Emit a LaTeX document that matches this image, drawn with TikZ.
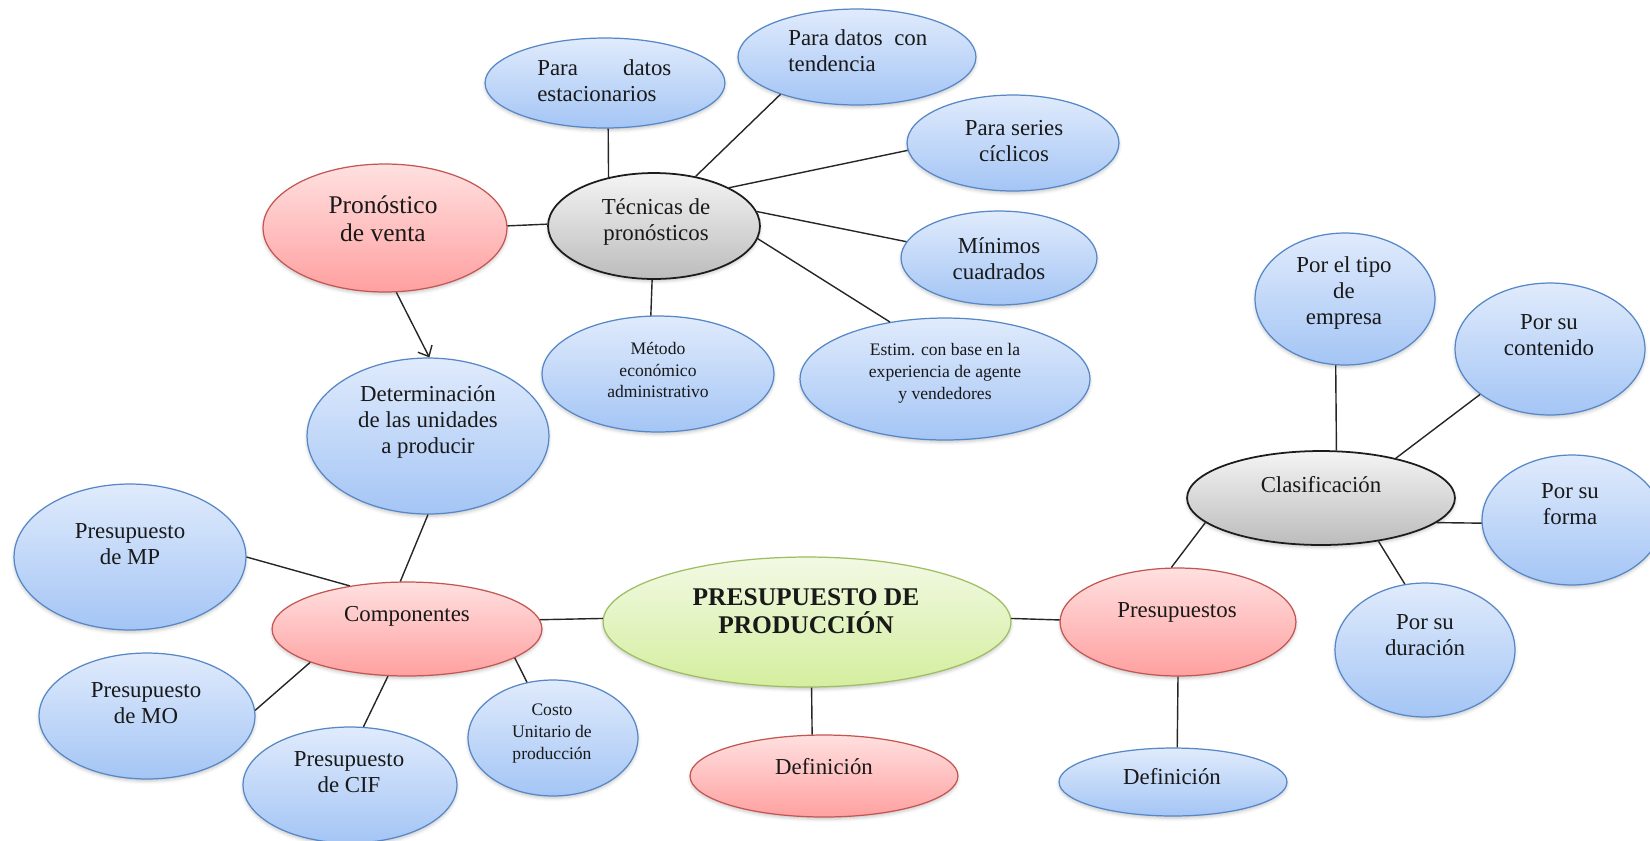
\documentclass[tikz,border=0pt]{standalone}
\usepackage{fontspec}
\setmainfont{Liberation Serif}
\usetikzlibrary{shapes.geometric,arrows.meta,shadows.blur}

\definecolor{blueT}{RGB}{224,235,252}
\definecolor{blueM}{RGB}{204,222,250}
\definecolor{blueB}{RGB}{164,197,245}
\definecolor{blueE}{RGB}{86,135,198}
\definecolor{redT}{RGB}{255,224,224}
\definecolor{redM}{RGB}{255,205,205}
\definecolor{redB}{RGB}{255,160,160}
\definecolor{redE}{RGB}{196,86,82}
\definecolor{greenT}{RGB}{242,249,228}
\definecolor{greenM}{RGB}{232,245,206}
\definecolor{greenB}{RGB}{212,238,158}
\definecolor{greenE}{RGB}{158,190,98}
\definecolor{grayT}{RGB}{244,244,244}
\definecolor{grayM}{RGB}{224,224,224}
\definecolor{grayB}{RGB}{188,188,188}
\definecolor{grayE}{RGB}{28,28,28}

\tikzset{
  bubble/.style={ellipse, inner sep=0pt, line width=0.7pt,
    blur shadow={shadow xshift=0pt, shadow yshift=-1.3pt, shadow opacity=22, shadow blur steps=4}},
  sz/.style n args={2}{minimum width=#1*0.04cm, minimum height=#2*0.04cm},
  blueb/.style={bubble, draw=blueE, top color=blueT, middle color=blueM, bottom color=blueB},
  redb/.style={bubble, draw=redE, top color=redT, middle color=redM, bottom color=redB},
  greenb/.style={bubble, draw=greenE, top color=greenT, middle color=greenM, bottom color=greenB},
  grayb/.style={bubble, draw=grayE, line width=1pt, top color=grayT, middle color=grayM, bottom color=grayB},
  lbl/.style={inner sep=0pt, align=center, text=black!90, font=\fontsize{13}{14.8}\selectfont},
  lblsmall/.style={lbl, font=\fontsize{10}{12.4}\selectfont},
  lblbig/.style={lbl, font=\fontsize{14.5}{16}\selectfont},
  lbltitle/.style={lbl, font=\fontsize{14.5}{16}\selectfont\bfseries},
  link/.style={draw=black!85, line width=0.8pt},
}

\begin{document}
\begin{tikzpicture}[x=0.02cm, y=-0.02cm]
\useasboundingbox (0,0) rectangle (1650,840);

% ---- ellipses ----
\node[blueb, sz={120}{45}]  (nEst)   at (605,83)   {};
\node[blueb, sz={119}{48}]  (nTend)  at (857,57)   {};
\node[blueb, sz={106}{48}]  (nSer)   at (1013,143) {};
\node[grayb, sz={106}{53}]  (nTec)   at (654,226)  {};
\node[redb,  sz={122}{64}]  (nPron)  at (385,228)  {};
\node[blueb, sz={98}{47}]   (nMin)   at (999,258)  {};
\node[blueb, sz={116}{58}]  (nMet)   at (658,374)  {};
\node[blueb, sz={145}{61}]  (nEstim) at (945,379)  {};
\node[blueb, sz={121}{78}]  (nDet)   at (428,436)  {};
\node[blueb, sz={90}{66}]   (nTipo)  at (1345,299) {};
\node[blueb, sz={95}{66}]   (nCont)  at (1550,349) {};
\node[grayb, sz={134}{47}]  (nClas)  at (1321,498) {};
\node[blueb, sz={90}{65}]   (nForma) at (1572,520) {};
\node[redb,  sz={118}{54}]  (nPres)  at (1178,622) {};
\node[blueb, sz={90}{67}]   (nDur)   at (1425,650) {};
\node[blueb, sz={114}{34}]  (nDefB)  at (1173,782) {};
\node[greenb,sz={204}{65}]  (nMain)  at (807,622)  {};
\node[redb,  sz={134}{41}]  (nDefR)  at (824,776)  {};
\node[redb,  sz={135}{47}]  (nComp)  at (407,629)  {};
\node[blueb, sz={116}{73}]  (nMP)    at (130,557)  {};
\node[blueb, sz={108}{63}]  (nMO)    at (147,716)  {};
\node[blueb, sz={107}{58}]  (nCIF)   at (350,785)  {};
\node[blueb, sz={85}{58}]   (nCosto) at (553,738)  {};

% ---- texts ----
\node[lbl, anchor=west, align=left, text width=2.68cm] (tEst) at (537,80.5) {Para\hfill datos\\estacionarios};
\node[lbl, anchor=west, align=left] (tTend) at (788,50.5) {Para datos\ \ con\\tendencia};
\node[lbl] (tSer)   at (1014,141.5) {Para series\\cíclicos};
\node[lbl] (tTec)   at (656,222)    {Técnicas de\\pronósticos};
\node[lblbig] (tPron) at (383,219)  {Pronóstico\\de venta};
\node[lbl] (tMin)   at (999,258.5)  {Mínimos\\cuadrados};
\node[lblsmall] (tMet)   at (658,370)   {Método\\económico\\administrativo};
\node[lblsmall] (tEstim) at (945,373.5) {Estim. con base en la\\experiencia de agente\\y vendedores};
\node[lbl] (tDet)   at (428,422)    {Determinación\\de las unidades\\a producir};
\node[lbl] (tTipo)  at (1344,293)   {Por el tipo\\de\\empresa};
\node[lbl] (tCont)  at (1549,335)   {Por su\\contenido};
\node[lbl] (tClas)  at (1321,485)   {Clasificación};
\node[lbl] (tForma) at (1570,504)   {Por su\\forma};
\node[lbl] (tDur)   at (1425,635.5) {Por su\\duración};
\node[lbl] (tPres)  at (1177,612)   {Presupuestos};
\node[lbl] (tDefB)  at (1172,777)   {Definición};
\node[lbltitle] (tMain) at (806,611) {PRESUPUESTO DE\\PRODUCCIÓN};
\node[lbl] (tDefR)  at (824,767)    {Definición};
\node[lblsmall] (tCosto) at (552,733.5) {Costo\\Unitario de\\producción};
\node[lbl] (tCIF)   at (349,772)    {Presupuesto\\de CIF};
\node[lbl] (tMP)    at (130,544)    {Presupuesto\\de MP};
\node[lbl] (tMO)    at (146,703.5)  {Presupuesto\\de MO};
\node[lbl] (tComp)  at (407,616)    {Componentes};

% ---- connectors ----
\draw[link] (nPron.1)   -- (nTec.179);
\draw[link] (nEst.274)  -- (nTec.133);
\draw[link] (nTend.206) -- (nTec.50);
\draw[link] (nSer.184)  -- (nTec.27);
\draw[link] (nMin.170)  -- (nTec.8);
\draw[link] (nEstim.134)-- (nTec.353);
\draw[link] (nMet.97)   -- (nTec.268);
\draw[link, -{Straight Barb[length=5pt,width=9pt]}] (nPron.280) -- (nDet.89);
\draw[link] (nDet.270)  -- (nComp.98);
\draw[link] (nMP.0)     -- (nComp.143);
\draw[link] (nMO.3)     -- (nComp.199);
\draw[link] (nCIF.77)   -- (nComp.248);
\draw[link] (nCosto.115)-- (nComp.345.5);
\draw[link] (nComp.4)   -- (nMain.179);
\draw[link] (nMain.1)   -- (nPres.179);
\draw[link] (nMain.274.4) -- (nDefR.106);
\draw[link] (nPres.97)  -- (nClas.192);
\draw[link] (nPres.270) -- (nDefB.83);
\draw[link] (nClas.72)  -- (nTipo.262);
\draw[link] (nClas.28)  -- (nCont.213);
\draw[link] (nClas.348) -- (nForma.182);
\draw[link] (nClas.323) -- (nDur.107);
\end{tikzpicture}
\end{document}
